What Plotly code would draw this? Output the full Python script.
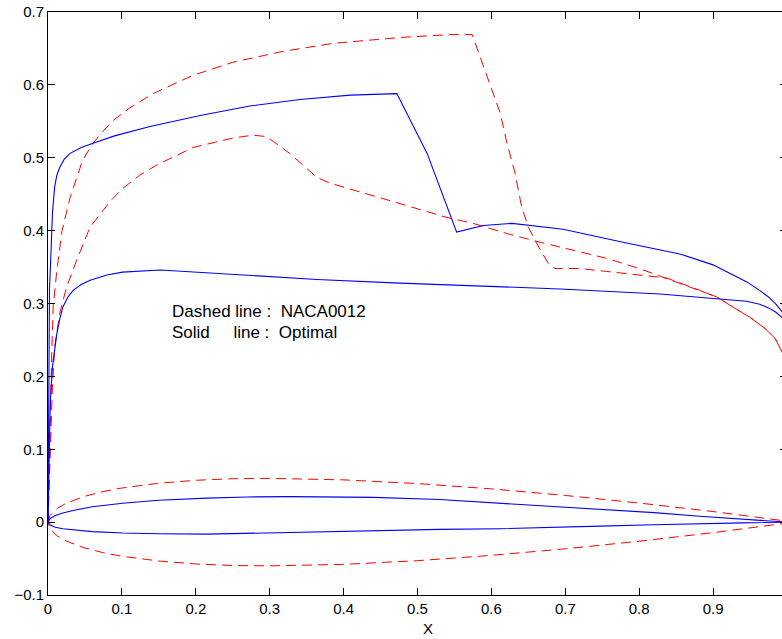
import plotly.graph_objects as go

# ---- Pressure distributions ----
naca_up_x = [0, 0.001, 0.003, 0.005, 0.007, 0.012, 0.019, 0.030, 0.047, 0.061, 0.075, 0.088, 0.11, 0.142,
             0.196, 0.25, 0.318, 0.386, 0.476, 0.544, 0.574, 0.58, 0.598, 0.612, 0.621, 0.632, 0.641, 0.65,
             0.661, 0.677, 0.686, 0.72, 0.756, 0.80, 0.837, 0.882, 0.905, 0.927, 0.95, 0.97, 0.984, 1.0]
naca_up_y = [0, 0.05, 0.14, 0.23, 0.295, 0.346, 0.40, 0.446, 0.497, 0.52, 0.537, 0.551, 0.568, 0.588,
             0.613, 0.631, 0.646, 0.657, 0.665, 0.669, 0.669, 0.652, 0.602, 0.561, 0.52, 0.479, 0.432, 0.405,
             0.383, 0.355, 0.348, 0.348, 0.344, 0.339, 0.335, 0.318, 0.309, 0.295, 0.281, 0.266, 0.252, 0.22]

naca_lo_x = [0, 0.003, 0.006, 0.009, 0.016, 0.025, 0.039, 0.057, 0.084, 0.10, 0.124, 0.147, 0.196, 0.25,
             0.277, 0.296, 0.327, 0.364, 0.382, 0.453, 0.54, 0.575, 0.621, 0.666, 0.71, 0.756, 0.80, 0.851,
             0.882, 0.905, 0.927, 0.95, 0.97, 0.984, 1.0]
naca_lo_y = [0, 0.095, 0.185, 0.24, 0.287, 0.322, 0.36, 0.405, 0.44, 0.457, 0.476, 0.49, 0.514, 0.527,
             0.531, 0.529, 0.506, 0.473, 0.465, 0.444, 0.418, 0.41, 0.396, 0.384, 0.373, 0.362, 0.348, 0.329,
             0.318, 0.309, 0.295, 0.281, 0.266, 0.252, 0.22]

opt_up_x = [0, 0.001, 0.002, 0.004, 0.006, 0.009, 0.012, 0.016, 0.022, 0.030, 0.045, 0.061, 0.09, 0.138,
            0.206, 0.273, 0.341, 0.409, 0.472, 0.513, 0.544, 0.553, 0.589, 0.628, 0.697, 0.778, 0.855, 0.90,
            0.927, 0.945, 0.963, 0.975, 0.985, 0.993, 1.0]
opt_up_y = [0, 0.2, 0.32, 0.369, 0.424, 0.46, 0.476, 0.487, 0.498, 0.506, 0.514, 0.52, 0.53, 0.543,
            0.558, 0.571, 0.58, 0.586, 0.588, 0.506, 0.424, 0.398, 0.407, 0.41, 0.402, 0.384, 0.368, 0.353,
            0.339, 0.33, 0.318, 0.309, 0.299, 0.289, 0.277]

opt_lo_x = [0, 0.001, 0.003, 0.006, 0.009, 0.012, 0.016, 0.020, 0.027, 0.034, 0.045, 0.057, 0.08, 0.101,
            0.152, 0.25, 0.364, 0.476, 0.693, 0.828, 0.918, 0.945, 0.963, 0.975, 0.985, 0.993, 1.0]
opt_lo_y = [0, 0.08, 0.163, 0.213, 0.24, 0.259, 0.279, 0.295, 0.309, 0.318, 0.326, 0.332, 0.339, 0.343,
            0.346, 0.340, 0.333, 0.328, 0.32, 0.313, 0.306, 0.303, 0.299, 0.294, 0.288, 0.281, 0.272]

# ---- Airfoil shapes ----
foil_naca_x = [0, 0.0025, 0.0125, 0.025, 0.05, 0.075, 0.1, 0.15, 0.2, 0.25, 0.3, 0.4, 0.5, 0.6, 0.7, 0.8,
               0.9, 0.95, 1.0]
foil_naca_up = [0, 0.0088, 0.0189, 0.0262, 0.0355, 0.0420, 0.0468, 0.0534, 0.0574, 0.0596, 0.0600, 0.0580,
                0.0529, 0.0456, 0.0366, 0.0262, 0.0145, 0.0081, 0.0013]
foil_naca_lo = [0, -0.0088, -0.0189, -0.0262, -0.0355, -0.0420, -0.0468, -0.0534, -0.0574, -0.0596, -0.0600,
                -0.0580, -0.0529, -0.0456, -0.0366, -0.0262, -0.0145, -0.0081, -0.0013]

foil_opt_x = [0, 0.003, 0.01, 0.02, 0.034, 0.06, 0.101, 0.15, 0.215, 0.27, 0.327, 0.38, 0.44, 0.53, 0.612,
              0.68, 0.747, 0.82, 0.882, 0.94, 1.0]
foil_opt_up = [0, 0.005, 0.009, 0.0125, 0.016, 0.021, 0.026, 0.030, 0.033, 0.0345, 0.035, 0.035, 0.034, 0.031,
               0.026, 0.022, 0.018, 0.013, 0.008, 0.004, 0.0]
foil_opt_lo = [0, -0.004, -0.007, -0.009, -0.011, -0.013, -0.015, -0.016, -0.0165, -0.016, -0.015, -0.0135,
               -0.012, -0.010, -0.009, -0.0072, -0.0055, -0.0035, -0.002, -0.001, 0]

x_ticks = [0, 0.1, 0.2, 0.3, 0.4, 0.5, 0.6, 0.7, 0.8, 0.9]
y_ticks = [-0.1, 0, 0.1, 0.2, 0.3, 0.4, 0.5, 0.6, 0.7]

RED = "rgb(255,0,0)"
BLUE = "rgb(0,0,255)"
dash_style = dict(color=RED, width=1, dash="10px,6px")
solid_style = dict(color=BLUE, width=1.1)

fig = go.Figure()
fig.add_trace(go.Scatter(x=naca_up_x, y=naca_up_y, mode="lines", line=dash_style))
fig.add_trace(go.Scatter(x=naca_lo_x, y=naca_lo_y, mode="lines", line=dash_style))
fig.add_trace(go.Scatter(x=foil_naca_x + foil_naca_x[::-1], y=foil_naca_up + foil_naca_lo[::-1],
                         mode="lines", line=dash_style))
fig.add_trace(go.Scatter(x=opt_up_x, y=opt_up_y, mode="lines", line=solid_style))
fig.add_trace(go.Scatter(x=opt_lo_x, y=opt_lo_y, mode="lines", line=solid_style))
fig.add_trace(go.Scatter(x=foil_opt_x + foil_opt_x[::-1], y=foil_opt_up + foil_opt_lo[::-1],
                         mode="lines", line=solid_style))

tick_font = dict(family="Liberation Sans, Arial, sans-serif", size=15, color="black")
note_font = dict(family="Liberation Sans, Arial, sans-serif", size=17, color="black")

fig.add_annotation(x=0.165, y=0.289, xref="x", yref="y", xanchor="left", yanchor="middle",
                   text="Dashed line :\u00a0\u00a0NACA0012", showarrow=False, font=note_font)
fig.add_annotation(x=0.165, y=0.260, xref="x", yref="y", xanchor="left", yanchor="middle",
                   text="Solid\u00a0\u00a0\u00a0\u00a0\u00a0line :\u00a0\u00a0Optimal", showarrow=False,
                   font=note_font)
fig.add_annotation(x=0.514, y=0, xref="paper", yref="paper", xanchor="center", yanchor="middle",
                   yshift=-33, text="X", showarrow=False, font=tick_font)

axis_common = dict(showgrid=False, zeroline=False, showline=True, linecolor="black", linewidth=1,
                   mirror="ticks", ticks="inside", ticklen=7, tickcolor="black", tickwidth=1,
                   tickfont=tick_font)

fig.update_xaxes(range=[0, 1], tickvals=x_ticks, ticktext=[f"{v:g}" for v in x_ticks], **axis_common)
fig.update_yaxes(range=[-0.1, 0.7], tickvals=y_ticks,
                 ticktext=["\u22120.1" if v < 0 else f"{v:g}" for v in y_ticks], **axis_common)

fig.update_layout(width=790, height=639, margin=dict(l=48, r=3, t=12, b=44),
                  plot_bgcolor="white", paper_bgcolor="white", showlegend=False,
                  font=tick_font)

fig.write_html("out.html")
